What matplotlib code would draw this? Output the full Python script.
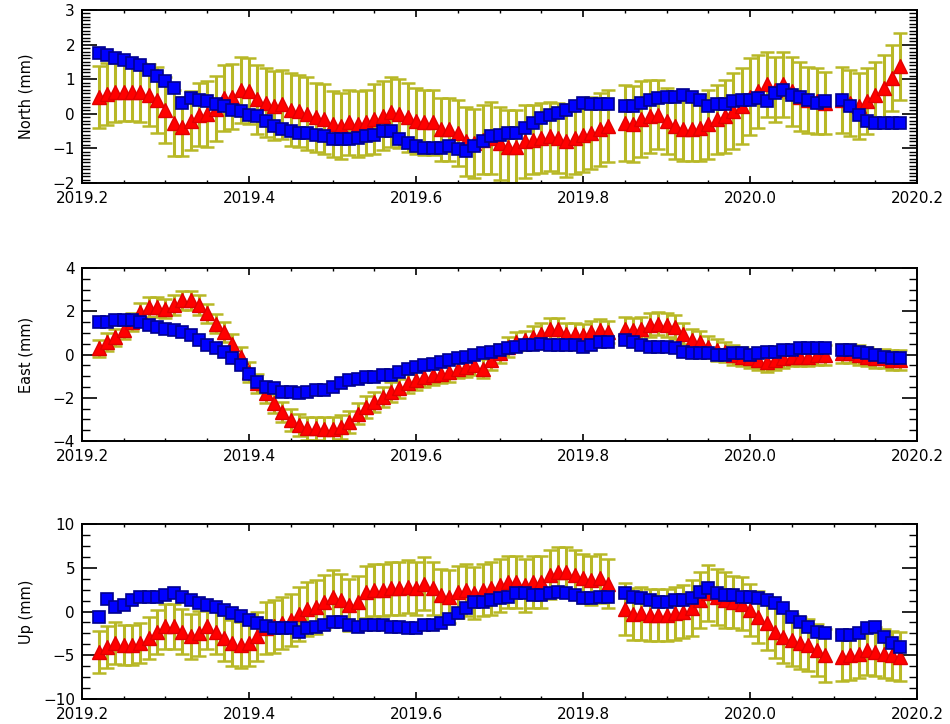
"""GPS 三分量時間序列 (North / East / Up)，紅三角+誤差棒 vs 藍方塊"""
import matplotlib
matplotlib.use("Agg")
import matplotlib.pyplot as plt
from matplotlib.ticker import MultipleLocator, AutoMinorLocator

plt.rcParams["font.family"] = ["DejaVu Sans"]

# decimal-year epochs (two data gaps: 2019.84, 2020.10)
T = [2019.22, 2019.23, 2019.24, 2019.25, 2019.26, 2019.27, 2019.28, 2019.29, 2019.30, 2019.31,
     2019.32, 2019.33, 2019.34, 2019.35, 2019.36, 2019.37, 2019.38, 2019.39, 2019.40, 2019.41,
     2019.42, 2019.43, 2019.44, 2019.45, 2019.46, 2019.47, 2019.48, 2019.49, 2019.50, 2019.51,
     2019.52, 2019.53, 2019.54, 2019.55, 2019.56, 2019.57, 2019.58, 2019.59, 2019.60, 2019.61,
     2019.62, 2019.63, 2019.64, 2019.65, 2019.66, 2019.67, 2019.68, 2019.69, 2019.70, 2019.71,
     2019.72, 2019.73, 2019.74, 2019.75, 2019.76, 2019.77, 2019.78, 2019.79, 2019.80, 2019.81,
     2019.82, 2019.83,
     2019.85, 2019.86, 2019.87, 2019.88, 2019.89, 2019.90, 2019.91, 2019.92, 2019.93, 2019.94,
     2019.95, 2019.96, 2019.97, 2019.98, 2019.99, 2020.00, 2020.01, 2020.02, 2020.03, 2020.04,
     2020.05, 2020.06, 2020.07, 2020.08, 2020.09,
     2020.11, 2020.12, 2020.13, 2020.14, 2020.15, 2020.16, 2020.17, 2020.18]

# ---- North (mm)
north_red = [0.49, 0.58, 0.62, 0.63, 0.63, 0.62, 0.55, 0.40, 0.10, -0.26,
             -0.37, -0.20, -0.02, 0.00, 0.15, 0.45, 0.50, 0.68, 0.65, 0.42,
             0.32, 0.23, 0.27, 0.12, 0.08, 0.00, -0.10, -0.15, -0.30, -0.35,
             -0.25, -0.30, -0.25, -0.15, -0.05, 0.05, 0.00, -0.10, -0.20, -0.25,
             -0.25, -0.45, -0.45, -0.55, -0.80, -0.85, -0.75, -0.70, -0.85, -0.95,
             -0.95, -0.80, -0.75, -0.70, -0.65, -0.70, -0.78, -0.70, -0.62, -0.55,
             -0.45, -0.35,
             -0.26, -0.30, -0.16, -0.07, -0.02, -0.20, -0.36, -0.45, -0.45, -0.40,
             -0.30, -0.16, -0.07, 0.08, 0.22, 0.50, 0.65, 0.85, 0.70, 0.85,
             0.65, 0.50, 0.40, 0.36, 0.32,
             0.40, 0.32, 0.22, 0.36, 0.55, 0.75, 1.04, 1.37]
north_err = [0.90, 0.90, 0.85, 0.85, 0.85, 0.85, 0.90, 0.95, 0.95, 0.95,
             0.85, 0.85, 0.90, 0.95, 0.95, 0.95, 0.95, 0.95, 0.95, 1.00,
             1.00, 1.00, 1.00, 1.05, 1.05, 1.05, 1.00, 1.00, 0.95, 0.95,
             0.95, 0.95, 0.95, 1.00, 1.00, 1.00, 1.00, 1.00, 0.95, 0.95,
             0.95, 0.90, 0.90, 0.95, 1.00, 1.00, 1.00, 1.05, 1.05, 1.05,
             1.05, 1.05, 1.00, 1.00, 1.00, 1.00, 1.05, 1.05, 1.05, 1.05,
             1.05, 1.05,
             1.10, 1.10, 1.10, 1.05, 1.00, 0.95, 0.95, 0.90, 0.90, 0.95,
             1.00, 1.00, 1.05, 1.10, 1.10, 1.10, 1.05, 0.95, 0.95, 0.95,
             1.00, 1.00, 0.95, 0.95, 0.90,
             0.95, 0.95, 0.95, 0.95, 0.95, 0.95, 0.95, 0.97]
north_blue = [1.76, 1.71, 1.60, 1.56, 1.47, 1.42, 1.28, 1.09, 0.94, 0.75,
              0.32, 0.45, 0.41, 0.36, 0.27, 0.22, 0.12, 0.08, -0.02, -0.07,
              -0.20, -0.36, -0.45, -0.50, -0.55, -0.55, -0.60, -0.65, -0.74, -0.74,
              -0.74, -0.70, -0.65, -0.60, -0.50, -0.50, -0.74, -0.84, -0.93, -0.98,
              -0.98, -0.98, -0.93, -1.03, -1.08, -0.93, -0.80, -0.65, -0.60, -0.55,
              -0.55, -0.40, -0.26, -0.12, -0.02, 0.03, 0.12, 0.22, 0.32, 0.27,
              0.27, 0.27,
              0.22, 0.22, 0.32, 0.41, 0.46, 0.50, 0.50, 0.55, 0.50, 0.41,
              0.22, 0.27, 0.27, 0.36, 0.41, 0.41, 0.46, 0.36, 0.60, 0.70,
              0.55, 0.50, 0.41, 0.32, 0.36,
              0.41, 0.22, -0.02, -0.20, -0.26, -0.26, -0.26, -0.26]

# ---- East (mm)
east_red = [0.28, 0.58, 0.80, 1.12, 1.50, 1.97, 2.20, 2.20, 2.12, 2.28,
            2.50, 2.50, 2.28, 1.90, 1.43, 1.05, 0.50, -0.10, -0.80, -1.34,
            -1.80, -2.26, -2.65, -3.03, -3.26, -3.42, -3.42, -3.45, -3.43, -3.35,
            -3.12, -2.73, -2.42, -2.19, -1.96, -1.73, -1.57, -1.34, -1.19, -1.03,
            -0.96, -0.88, -0.80, -0.65, -0.57, -0.49, -0.65, -0.26, 0.05, 0.35,
            0.59, 0.66, 0.82, 0.97, 1.20, 1.20, 0.97, 0.97, 0.90, 1.05,
            1.13, 1.05,
            1.20, 1.13, 1.20, 1.36, 1.43, 1.36, 1.28, 0.97, 0.66, 0.59,
            0.35, 0.20, 0.12, -0.03, -0.10, -0.18, -0.26, -0.34, -0.26, -0.18,
            -0.10, -0.10, -0.10, -0.03, -0.03,
            0.05, 0.05, -0.03, -0.10, -0.18, -0.18, -0.26, -0.26]
east_err = [0.40, 0.40, 0.40, 0.40, 0.40, 0.40, 0.45, 0.45, 0.45, 0.45,
            0.45, 0.45, 0.45, 0.45, 0.45, 0.45, 0.45, 0.45, 0.45, 0.45,
            0.45, 0.45, 0.45, 0.50, 0.50, 0.55, 0.55, 0.55, 0.55, 0.55,
            0.50, 0.50, 0.50, 0.45, 0.45, 0.45, 0.45, 0.45, 0.45, 0.45,
            0.45, 0.45, 0.45, 0.45, 0.45, 0.45, 0.45, 0.45, 0.45, 0.45,
            0.45, 0.45, 0.50, 0.50, 0.50, 0.50, 0.50, 0.50, 0.50, 0.50,
            0.50, 0.50,
            0.55, 0.55, 0.55, 0.55, 0.55, 0.55, 0.55, 0.50, 0.50, 0.50,
            0.50, 0.50, 0.45, 0.45, 0.45, 0.45, 0.45, 0.45, 0.45, 0.45,
            0.45, 0.45, 0.45, 0.45, 0.45,
            0.45, 0.45, 0.45, 0.45, 0.45, 0.45, 0.45, 0.45]
east_blue = [1.50, 1.50, 1.58, 1.58, 1.58, 1.50, 1.36, 1.28, 1.20, 1.13,
             1.05, 0.90, 0.66, 0.43, 0.28, 0.12, -0.18, -0.49, -0.88, -1.26,
             -1.50, -1.57, -1.73, -1.73, -1.80, -1.73, -1.65, -1.65, -1.50, -1.34,
             -1.19, -1.11, -1.03, -1.03, -0.96, -0.96, -0.80, -0.65, -0.57, -0.49,
             -0.42, -0.34, -0.26, -0.18, -0.10, -0.03, 0.05, 0.12, 0.20, 0.28,
             0.35, 0.43, 0.43, 0.50, 0.43, 0.43, 0.43, 0.43, 0.35, 0.43,
             0.59, 0.59,
             0.66, 0.59, 0.43, 0.35, 0.35, 0.35, 0.28, 0.12, 0.05, 0.05,
             0.05, -0.03, -0.03, 0.05, 0.05, -0.03, 0.05, 0.12, 0.12, 0.20,
             0.20, 0.28, 0.28, 0.28, 0.28,
             0.20, 0.20, 0.12, 0.05, -0.03, -0.10, -0.18, -0.18]

# ---- Up (mm)
up_red = [-4.6, -4.0, -3.6, -3.8, -3.8, -3.6, -3.05, -2.3, -1.7, -1.7,
          -2.3, -2.85, -2.5, -1.7, -2.3, -3.05, -3.6, -3.8, -3.6, -2.85,
          -1.9, -1.7, -1.3, -0.95, -0.3, 0.3, 0.55, 1.1, 1.7, 1.3,
          0.75, 1.1, 2.25, 2.45, 2.45, 2.65, 2.65, 2.85, 2.65, 3.2,
          2.65, 1.9, 1.7, 2.25, 2.45, 2.1, 2.45, 2.65, 3.0, 3.4,
          3.4, 3.0, 3.4, 3.4, 4.2, 4.55, 4.55, 4.2, 3.8, 3.6,
          3.8, 3.2,
          0.3, -0.3, -0.2, -0.4, -0.4, -0.4, -0.2, 0.0, 0.35, 1.3,
          2.1, 1.7, 1.3, 1.1, 0.9, 0.15, -0.6, -1.35, -2.3, -2.9,
          -3.25, -3.6, -3.8, -4.4, -5.0,
          -5.15, -5.0, -4.8, -4.4, -4.6, -4.8, -5.0, -5.15]
up_err = [2.4, 2.4, 2.4, 2.3, 2.3, 2.3, 2.4, 2.5, 2.6, 2.6,
          2.6, 2.6, 2.6, 2.6, 2.6, 2.6, 2.6, 2.6, 2.6, 2.8,
          3.0, 3.0, 3.0, 3.0, 3.1, 3.1, 3.1, 3.1, 3.0, 3.0,
          3.0, 3.0, 3.0, 3.0, 3.0, 3.0, 3.0, 3.0, 3.0, 3.0,
          3.0, 3.0, 3.0, 3.0, 3.0, 3.0, 3.0, 3.0, 3.0, 3.0,
          3.0, 3.0, 3.0, 3.0, 2.8, 2.8, 2.8, 2.8, 2.8, 2.8,
          2.8, 2.8,
          3.0, 3.0, 3.0, 3.0, 3.0, 3.0, 3.0, 3.0, 3.2, 3.2,
          3.2, 3.2, 3.2, 3.0, 3.0, 3.0, 3.0, 3.0, 3.0, 3.0,
          3.0, 3.0, 3.0, 3.0, 3.0,
          2.8, 2.8, 2.8, 2.8, 2.8, 2.8, 2.8, 2.8]
up_blue = [-0.6, 1.4, 0.55, 0.75, 1.35, 1.7, 1.7, 1.7, 1.9, 2.1,
           1.7, 1.35, 0.95, 0.75, 0.55, 0.2, -0.2, -0.55, -0.95, -1.35,
           -1.7, -1.9, -1.9, -1.9, -2.3, -1.9, -1.75, -1.55, -1.15, -1.15,
           -1.55, -1.75, -1.55, -1.55, -1.55, -1.75, -1.75, -1.9, -1.9, -1.55,
           -1.55, -1.35, -0.8, -0.2, 0.35, 1.1, 1.1, 1.3, 1.5, 1.7,
           2.1, 2.1, 1.9, 1.9, 2.1, 2.25, 2.1, 1.9, 1.5, 1.5,
           1.7, 1.7,
           2.1, 1.7, 1.5, 1.3, 1.1, 1.1, 1.3, 1.3, 1.5, 2.25,
           2.65, 2.1, 1.9, 1.9, 1.7, 1.7, 1.5, 1.3, 0.95, 0.35,
           -0.6, -1.15, -1.75, -2.3, -2.5,
           -2.7, -2.7, -2.5, -1.9, -1.75, -2.9, -3.65, -4.0]

X_TICKS = [2019.2, 2019.4, 2019.6, 2019.8, 2020.0, 2020.2]
X_TICKLABELS = ["2019.2", "2019.4", "2019.6", "2019.8", "2020.0", "2020.2"]

OLIVE = "#b8b826"


def draw_panel(ax, red, err, blue, ylim, ymajor, nminor, ylabel):
    ax.errorbar(T, red, yerr=err, fmt="none", ecolor=OLIVE, elinewidth=2.2,
                capsize=5, capthick=1.8, zorder=2)
    ax.plot(T, red, linestyle="none", marker="^", markersize=9.5,
            markerfacecolor="red", markeredgecolor="#e00000", markeredgewidth=1.0, zorder=3)
    ax.plot(T, blue, linestyle="none", marker="s", markersize=9,
            markerfacecolor="#0000ff", markeredgecolor="#000090", markeredgewidth=1.2, zorder=4)

    ax.set_xlim(2019.2, 2020.2)
    ax.set_ylim(*ylim)
    ax.set_xticks(X_TICKS)
    ax.set_xticklabels(X_TICKLABELS)
    ax.xaxis.set_minor_locator(MultipleLocator(0.05))
    ax.yaxis.set_major_locator(MultipleLocator(ymajor))
    ax.yaxis.set_minor_locator(AutoMinorLocator(nminor))

    ax.tick_params(axis="x", which="major", direction="in", length=5, width=1.2,
                   top=True, labelsize=11, pad=6)
    ax.tick_params(axis="x", which="minor", direction="in", length=2.5, width=1.0, top=True)
    ax.tick_params(axis="y", which="major", direction="in", length=11, width=1.2,
                   right=True, labelsize=11, pad=5)
    ax.tick_params(axis="y", which="minor", direction="in", length=5.5, width=1.0, right=True)
    for sp in ax.spines.values():
        sp.set_linewidth(1.4)
    ax.set_ylabel(ylabel, fontsize=10.5)
    ax.yaxis.set_label_coords(-0.058, 0.5)


fig = plt.figure(figsize=(9.5, 7.24), dpi=100)
ax1 = fig.add_axes([0.0863, 0.7472, 0.879, 0.2390])
ax2 = fig.add_axes([0.0863, 0.3909, 0.879, 0.2389])
ax3 = fig.add_axes([0.0863, 0.0345, 0.879, 0.2417])

draw_panel(ax1, north_red, north_err, north_blue, (-2, 3), 1, 10, "North (mm)")
draw_panel(ax2, east_red, east_err, east_blue, (-4, 4), 2, 4, "East (mm)")
draw_panel(ax3, up_red, up_err, up_blue, (-10, 10), 5, 4, "Up (mm)")

fig.savefig("out.png", dpi=100)
